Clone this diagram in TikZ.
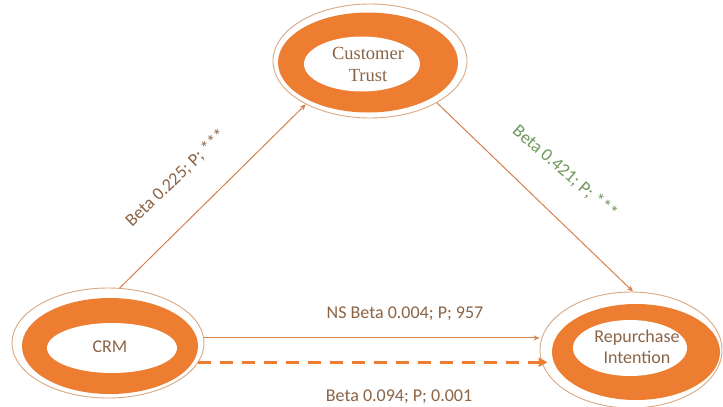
\documentclass[tikz,border=0pt]{standalone}
\usepackage{fontspec}
\setmainfont{Carlito}
\newfontfamily\ctserif{Liberation Serif}
\usetikzlibrary{shapes.geometric,arrows.meta,calc}
\definecolor{ringorange}{RGB}{237,125,49}
\definecolor{rimline}{RGB}{218,168,130}
\definecolor{linkcol}{RGB}{214,128,76}
\definecolor{txtbrown}{RGB}{140,100,70}
\definecolor{txtgreen}{RGB}{112,152,92}
\tikzset{
  outerring/.style={ellipse, draw=rimline, line width=0.9pt, fill=white, inner sep=0pt},
  orangering/.style={ellipse, fill=ringorange, inner sep=0pt},
  innerhole/.style={ellipse, fill=white, inner sep=0pt},
  nodetext/.style={text=txtbrown, align=center, font=\fontsize{18}{21}\selectfont},
  link/.style={draw=linkcol, line width=1pt, -{Stealth[length=6pt,width=5pt]}},
  dashlink/.style={draw=ringorange, line width=3pt, dash pattern=on 13pt off 9pt, -{Triangle[length=9pt,width=9pt]}},
  lbl/.style={text=txtbrown, font=\fontsize{18}{21}\selectfont, inner sep=0pt},
}
\begin{document}
\begin{tikzpicture}[x=1pt,y=-1pt]
\useasboundingbox[fill=white] (0,0) rectangle (723,407);
% Customer Trust
\node[outerring, minimum width=194pt, minimum height=114pt] (trust) at (370,61) {};
\node[orangering, minimum width=180pt, minimum height=100pt] (trustO) at (368,62.5) {};
\node[innerhole, minimum width=116pt, minimum height=55pt] (trustI) at (362,64) {};
\node[nodetext, text=txtbrown, font=\ctserif\fontsize{18.5}{22}\selectfont] (trustT) at (368,64) {Customer\\Trust};
% CRM
\node[outerring, minimum width=192pt, minimum height=110pt] (crm) at (108,343) {};
\node[orangering, minimum width=176pt, minimum height=96pt] (crmO) at (110,346) {};
\node[innerhole, minimum width=130pt, minimum height=50pt] (crmI) at (112,348) {};
\node[nodetext] (crmT) at (110,347) {CRM};
% Repurchase Intention
\node[outerring, minimum width=182pt, minimum height=116pt] (rep) at (631,350) {};
\node[orangering, minimum width=168pt, minimum height=96pt] (repO) at (636,352) {};
\node[innerhole, minimum width=114pt, minimum height=56pt] (repI) at (630,348) {};
\node[nodetext] (repT) at (637,347) {Repurchase\\Intention};
% connectors
\draw[link] (crm.78) -- (trust.214);
\draw[link] (trust.-32) -- (rep.88);
\draw[link] (crm.3) -- (crm.3 -| rep.west);
\draw[dashlink] (crm.-12.6) -- ($(crm.-12.6 -| rep.west)+(8,0)$);
% labels
\node[lbl, rotate=44] (l1) at (176,178) {Beta 0.225; P; ***};
\node[lbl, rotate=-41, text=txtgreen] (l2) at (565,172) {Beta 0.421; P; ***};
\node[lbl] (l3) at (405,314) {NS Beta 0.004; P; 957};
\node[lbl] (l4) at (399,397) {Beta 0.094; P; 0.001};
\end{tikzpicture}
\end{document}
